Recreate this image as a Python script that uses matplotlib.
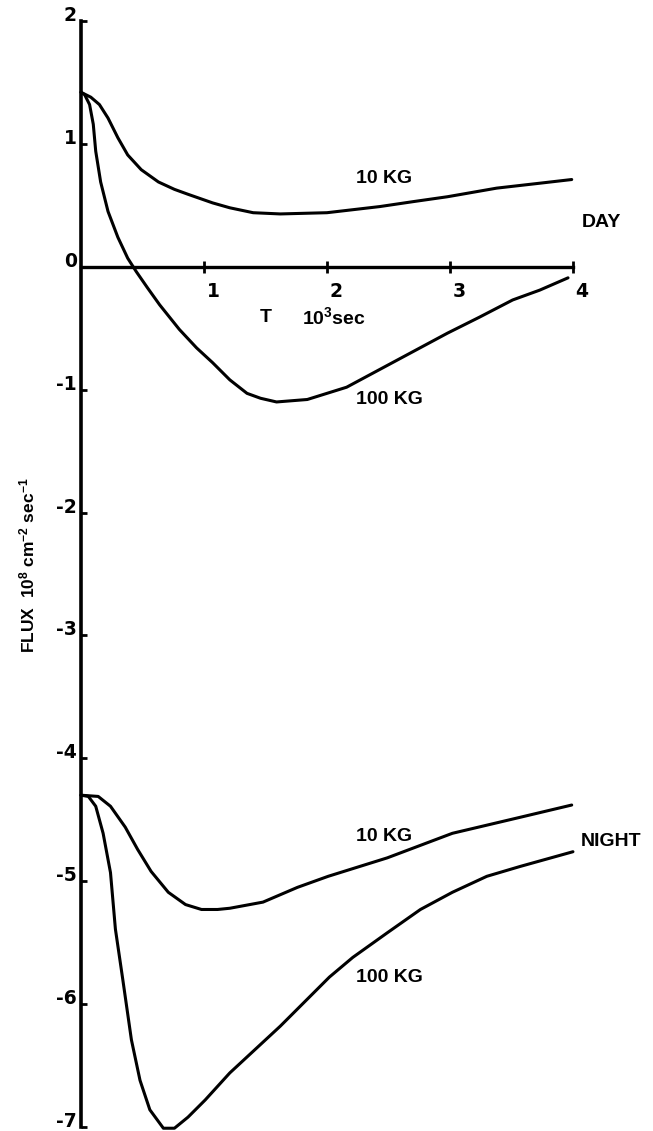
import numpy as np
import matplotlib
matplotlib.use('Agg')
import matplotlib.pyplot as plt
import matplotlib.transforms as mtransforms

plt.rcParams['font.family'] = ['Liberation Sans', 'DejaVu Sans']
plt.rcParams['font.weight'] = 'bold'
plt.rcParams['axes.unicode_minus'] = False
plt.rcParams['mathtext.fontset'] = 'custom'
plt.rcParams['mathtext.rm'] = 'Liberation Sans:bold'
plt.rcParams['mathtext.it'] = 'Liberation Sans:bold'
plt.rcParams['mathtext.bf'] = 'Liberation Sans:bold'

# T in 10^3 sec, flux in 10^8 cm^-2 sec^-1
day_10kg_t = [0.00, 0.08, 0.15, 0.22, 0.30, 0.38, 0.49, 0.63, 0.76, 0.87, 1.07, 1.21,
              1.40, 1.62, 2.00, 2.43, 2.70, 2.98, 3.38, 3.73, 3.99]
day_10kg_flux = [1.42, 1.38, 1.32, 1.21, 1.05, 0.91, 0.79, 0.69, 0.63, 0.59, 0.52, 0.48,
                 0.44, 0.43, 0.44, 0.49, 0.53, 0.57, 0.64, 0.68, 0.71]

day_100kg_t = [0.00, 0.03, 0.07, 0.10, 0.12, 0.16, 0.22, 0.30, 0.38, 0.45, 0.54, 0.64,
               0.72, 0.80, 0.94, 1.07, 1.21, 1.35, 1.46, 1.59, 1.84, 2.16, 2.57, 2.98,
               3.24, 3.51, 3.73, 3.96]
day_100kg_flux = [1.42, 1.40, 1.32, 1.16, 0.94, 0.69, 0.45, 0.24, 0.07, -0.04, -0.17, -0.31,
                  -0.41, -0.51, -0.66, -0.78, -0.92, -1.03, -1.07, -1.10, -1.08, -0.98, -0.76, -0.54,
                  -0.41, -0.27, -0.19, -0.09]

night_10kg_t = [0.00, 0.14, 0.24, 0.36, 0.46, 0.57, 0.71, 0.85, 0.98, 1.11, 1.21, 1.48,
                1.76, 2.01, 2.49, 3.02, 3.57, 3.99]
night_10kg_flux = [-4.30, -4.31, -4.39, -4.56, -4.74, -4.92, -5.09, -5.19, -5.23, -5.23, -5.22, -5.17,
                   -5.05, -4.96, -4.81, -4.61, -4.48, -4.38]

night_100kg_t = [0.00, 0.06, 0.12, 0.18, 0.24, 0.28, 0.34, 0.41, 0.48, 0.56, 0.67, 0.76,
                 0.87, 1.01, 1.11, 1.21, 1.62, 2.02, 2.21, 2.49, 2.76, 3.02, 3.30, 3.57,
                 4.00]
night_100kg_flux = [-4.30, -4.31, -4.39, -4.61, -4.93, -5.39, -5.80, -6.29, -6.62, -6.86, -7.01, -7.01,
                    -6.92, -6.78, -6.67, -6.56, -6.18, -5.78, -5.62, -5.42, -5.23, -5.09, -4.96, -4.88,
                    -4.76]

x_ticks = [1, 2, 3, 4]
y_ticks = [2, 1, 0, -1, -2, -3, -4, -5, -6, -7]

fig = plt.figure(figsize=(6.53, 11.31), dpi=100)
ax = fig.add_axes([0.1240, 0.00354, 0.7534, 0.97789])

for t, f in [(day_10kg_t, day_10kg_flux), (day_100kg_t, day_100kg_flux),
             (night_10kg_t, night_10kg_flux), (night_100kg_t, night_100kg_flux)]:
    ax.plot(t, f, color='black', lw=2.2, clip_on=False,
            solid_capstyle='round', solid_joinstyle='round')

ax.set_xlim(0, 4)
ax.set_ylim(-7, 2)

# axes crossing at the origin
ax.spines['left'].set_position(('data', 0))
ax.spines['bottom'].set_position(('data', 0))
ax.spines['top'].set_visible(False)
ax.spines['right'].set_visible(False)
ax.spines['left'].set_linewidth(2.6)
ax.spines['bottom'].set_linewidth(2.4)

ax.set_xticks(x_ticks)
ax.set_xticklabels([str(v) for v in x_ticks])
ax.set_yticks(y_ticks)
ax.set_yticklabels([str(v) for v in y_ticks])
ax.tick_params(axis='x', direction='inout', length=8, width=2, pad=7)
ax.tick_params(axis='y', direction='in', length=4, width=2, pad=3)

for lab in ax.get_xticklabels():
    lab.set_fontfamily('DejaVu Sans')
    lab.set_fontsize(13.5)
    lab.set_fontweight('bold')
    lab.set_transform(lab.get_transform() + mtransforms.ScaledTranslation(9 / 100, 0, fig.dpi_scale_trans))
for lab in ax.get_yticklabels():
    lab.set_fontfamily('DejaVu Sans')
    lab.set_fontsize(13.5)
    lab.set_fontweight('bold')
    # digits sit on the tick, as in the original
    lab.set_verticalalignment('baseline')

# labels on the curves
ax.text(2.24, 0.72, '10 KG', fontsize=14, ha='left', va='center')
ax.text(4.07, 0.36, 'DAY', fontsize=14, ha='left', va='center', clip_on=False)
ax.text(2.24, -1.08, '100 KG', fontsize=14, ha='left', va='center')
ax.text(1.50, -0.41, 'T', fontsize=14, ha='center', va='center')
ax.text(1.80, -0.41, r'10$^{3}$sec', fontsize=14, ha='left', va='center')
ax.text(2.24, -4.64, '10 KG', fontsize=14, ha='left', va='center')
ax.text(4.06, -4.68, 'NIGHT', fontsize=14, ha='left', va='center', clip_on=False)
ax.text(2.24, -5.78, '100 KG', fontsize=14, ha='left', va='center')

fig.text(0.0413, 0.5004, r'FLUX  10$^{8}$ cm$^{-2}$ sec$^{-1}$', fontsize=12.5,
         rotation=90, ha='center', va='center')

fig.savefig('out.png', dpi=100)
